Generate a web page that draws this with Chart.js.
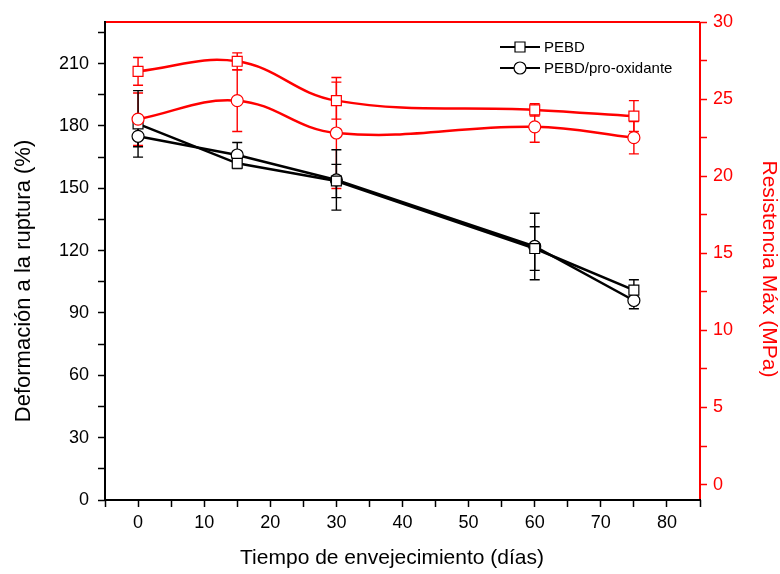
<!DOCTYPE html>
<html>
<head>
<meta charset="utf-8">
<title>Deformación y resistencia</title>
<script src="https://cdn.jsdelivr.net/npm/chart.js"></script>
<style>
  html, body { margin: 0; padding: 0; background: #fff; }
  #wrap { width: 780px; height: 574px; }
</style>
</head>
<body>
<div id="wrap"><canvas id="chart" width="780" height="574"></canvas></div>
<script>
// días de envejecimiento
const days = [0, 15, 30, 60, 75];

// deformación a la ruptura (%), eje izquierdo
const defPEBD = [181, 162, 153.5, 121, 101];
const defPEBDErr = [16, 2.5, 8, 10.5, 5];
const defOxi = [175, 166, 154, 122, 96];
const defOxiErr = [5, 6, 14.5, 16, 4];

// resistencia máx (MPa), eje derecho
const resPEBD = [26.8, 27.45, 24.9, 24.3, 23.9];
const resPEBDErr = [0.9, 0.55, 1.2, 0.4, 1.0];
const resOxi = [23.7, 24.9, 22.8, 23.2, 22.5];
const resOxiErr = [1.7, 2.0, 3.6, 1.0, 1.05];

// ticks
const xTicks = [-5, 0, 5, 10, 15, 20, 25, 30, 35, 40, 45, 50, 55, 60, 65, 70, 75, 80, 85];
const leftTicks = [0, 15, 30, 45, 60, 75, 90, 105, 120, 135, 150, 165, 180, 195, 210, 225];
const rightTicks = [0, 2.5, 5, 7.5, 10, 12.5, 15, 17.5, 20, 22.5, 25, 27.5, 30];

const RED = '#ff0000';
const BLACK = '#000000';
const FONT = "'Liberation Sans', Arial, sans-serif";

const toPoints = (xs, ys) => xs.map((x, i) => ({ x: x, y: ys[i] }));

// error bars, drawn before the datasets so the markers sit on top
const errorBars = {
  id: 'errorBars',
  beforeDatasetsDraw(chart) {
    const ctx = chart.ctx;
    const x = chart.scales.x;
    ctx.save();
    chart.data.datasets.forEach(ds => {
      const y = chart.scales[ds.yAxisID];
      ctx.strokeStyle = ds.borderColor;
      ctx.lineWidth = 1.4;
      ds.data.forEach((p, i) => {
        const e = ds.errors[i];
        const px = x.getPixelForValue(p.x);
        const top = y.getPixelForValue(p.y + e);
        const bot = y.getPixelForValue(p.y - e);
        ctx.beginPath();
        ctx.moveTo(px, top); ctx.lineTo(px, bot);
        ctx.moveTo(px - 5, top); ctx.lineTo(px + 5, top);
        ctx.moveTo(px - 5, bot); ctx.lineTo(px + 5, bot);
        ctx.stroke();
      });
    });
    ctx.restore();
  }
};

function drawTitle(ctx, text, x, y, rot, size, color) {
  ctx.save();
  ctx.translate(x, y);
  ctx.rotate(rot);
  ctx.font = size + 'px ' + FONT;
  ctx.fillStyle = color;
  ctx.textAlign = 'center';
  ctx.textBaseline = 'middle';
  ctx.fillText(text, 0, 0);
  ctx.restore();
}

// frame, axis titles and legend
const frame = {
  id: 'frame',
  afterDraw(chart) {
    const ctx = chart.ctx;
    const a = chart.chartArea;
    ctx.save();
    ctx.lineWidth = 2;
    ctx.strokeStyle = RED;
    ctx.beginPath();
    ctx.moveTo(a.left, a.top); ctx.lineTo(a.right, a.top);
    ctx.moveTo(a.right, a.top); ctx.lineTo(a.right, a.bottom);
    ctx.stroke();
    ctx.strokeStyle = BLACK;
    ctx.beginPath();
    ctx.moveTo(a.left, a.top - 1); ctx.lineTo(a.left, a.bottom);
    ctx.lineTo(a.right + 1, a.bottom);
    ctx.stroke();

    drawTitle(ctx, 'Tiempo de envejecimiento (días)', 392, 558, 0, 21, BLACK);
    drawTitle(ctx, 'Deformación a la ruptura (%)', 24, 281, -Math.PI / 2, 22, BLACK);
    drawTitle(ctx, 'Resistencia Máx (MPa)', 769, 269, Math.PI / 2, 21, RED);

    // legend
    const items = [
      { label: 'PEBD', style: 'rect', y: 47 },
      { label: 'PEBD/pro-oxidante', style: 'circle', y: 68 }
    ];
    ctx.font = '15px ' + FONT;
    ctx.textBaseline = 'middle';
    items.forEach(it => {
      ctx.strokeStyle = BLACK;
      ctx.lineWidth = 2;
      ctx.beginPath();
      ctx.moveTo(500, it.y); ctx.lineTo(540, it.y);
      ctx.stroke();
      ctx.fillStyle = '#fff';
      ctx.lineWidth = 1.2;
      ctx.beginPath();
      if (it.style === 'rect') {
        ctx.rect(515, it.y - 5, 10, 10);
      } else {
        ctx.arc(520, it.y, 6, 0, Math.PI * 2);
      }
      ctx.fill();
      ctx.stroke();
      ctx.fillStyle = BLACK;
      ctx.fillText(it.label, 544, it.y + 1);
    });
    ctx.restore();
  }
};

const ctx = document.getElementById('chart').getContext('2d');
new Chart(ctx, {
  type: 'line',
  data: {
    datasets: [
      {
        label: 'PEBD (MPa)',
        data: toPoints(days, resPEBD),
        errors: resPEBDErr,
        yAxisID: 'y1',
        borderColor: RED,
        borderWidth: 2.5,
        backgroundColor: '#fff',
        pointStyle: 'rect',
        pointRadius: 7,
        pointBorderWidth: 1.2,
        tension: 0.4
      },
      {
        label: 'PEBD/pro-oxidante (MPa)',
        data: toPoints(days, resOxi),
        errors: resOxiErr,
        yAxisID: 'y1',
        borderColor: RED,
        borderWidth: 2.5,
        backgroundColor: '#fff',
        pointStyle: 'circle',
        pointRadius: 6,
        pointBorderWidth: 1.2,
        tension: 0.4
      },
      {
        label: 'PEBD',
        data: toPoints(days, defPEBD),
        errors: defPEBDErr,
        yAxisID: 'y',
        borderColor: BLACK,
        borderWidth: 2.5,
        backgroundColor: '#fff',
        pointStyle: 'rect',
        pointRadius: 7,
        pointBorderWidth: 1.2,
        tension: 0
      },
      {
        label: 'PEBD/pro-oxidante',
        data: toPoints(days, defOxi),
        errors: defOxiErr,
        yAxisID: 'y',
        borderColor: BLACK,
        borderWidth: 2.5,
        backgroundColor: '#fff',
        pointStyle: 'circle',
        pointRadius: 6,
        pointBorderWidth: 1.2,
        tension: 0
      }
    ]
  },
  options: {
    responsive: false,
    animation: false,
    layout: { padding: { top: 22, left: 0, right: 0, bottom: 0 } },
    plugins: {
      legend: { display: false },
      tooltip: { enabled: false }
    },
    scales: {
      x: {
        type: 'linear',
        min: -5,
        max: 85,
        afterBuildTicks: s => { s.ticks = xTicks.map(v => ({ value: v })); },
        afterFit: s => { s.height = 74; },
        border: { display: false },
        grid: {
          drawOnChartArea: false,
          color: BLACK,
          tickLength: 7,
          tickWidth: 1.5
        },
        ticks: {
          color: BLACK,
          font: { family: FONT, size: 18 },
          padding: 5,
          maxRotation: 0,
          autoSkip: false,
          callback: v => (v % 10 === 0 ? v : '')
        }
      },
      y: {
        type: 'linear',
        position: 'left',
        min: 0,
        max: 230,
        afterBuildTicks: s => { s.ticks = leftTicks.map(v => ({ value: v })); },
        afterFit: s => { s.width = 105; },
        border: { display: false },
        grid: {
          drawOnChartArea: false,
          color: BLACK,
          tickLength: 7,
          tickWidth: 1.5
        },
        ticks: {
          color: BLACK,
          font: { family: FONT, size: 18 },
          padding: 9,
          autoSkip: false,
          callback: v => (v % 30 === 0 ? v : '')
        }
      },
      y1: {
        type: 'linear',
        position: 'right',
        min: -1,
        max: 30,
        afterBuildTicks: s => { s.ticks = rightTicks.map(v => ({ value: v })); },
        afterFit: s => { s.width = 80; },
        border: { display: false },
        grid: {
          drawOnChartArea: false,
          color: RED,
          tickLength: 7,
          tickWidth: 1.5
        },
        ticks: {
          color: RED,
          font: { family: FONT, size: 18 },
          padding: 6,
          autoSkip: false,
          callback: v => (v % 5 === 0 ? v : '')
        }
      }
    }
  },
  plugins: [errorBars, frame]
});
</script>
</body>
</html>
